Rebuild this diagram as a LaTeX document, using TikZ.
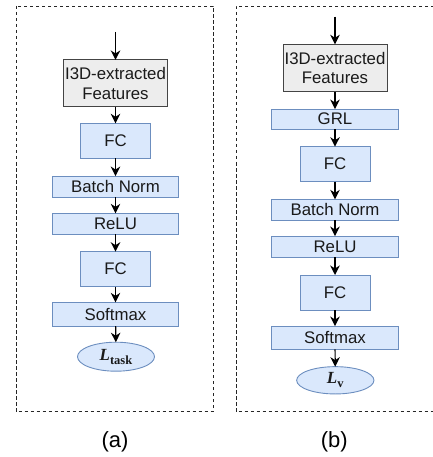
\documentclass[tikz,border=0pt]{standalone}
\usepackage{fontspec}
\setmainfont{Liberation Sans}
\newfontfamily\serifL{Liberation Serif}
\usetikzlibrary{arrows.meta,shapes.geometric}
\definecolor{bfill}{HTML}{DAE8FC}
\definecolor{bdraw}{HTML}{6C8EBF}
\definecolor{gfill}{HTML}{EDEDED}
\definecolor{gdraw}{HTML}{444444}
\definecolor{txt}{HTML}{1A1A1A}
\begin{document}
\begin{tikzpicture}[x=1pt,y=-1pt,
  every node/.style={inner sep=0pt,outer sep=0pt,text=txt,font=\fontsize{16.8}{19.5}\selectfont},
  bluebox/.style={draw=bdraw,fill=bfill,line width=0.9pt,rectangle,align=center},
  graybox/.style={draw=gdraw,fill=gfill,line width=0.9pt,rectangle,align=center},
  lossnode/.style={draw=bdraw,fill=bfill,line width=0.9pt,ellipse},
  flow/.style={draw=black,line width=1.2pt,-{Stealth[length=9.5pt,width=9.5pt,inset=3pt]}},
  frame/.style={draw=black!85,line width=0.9pt,dash pattern=on 3.5pt off 2.5pt},
  caption/.style={font=\fontsize{22}{26}\selectfont,text=black}
]
\useasboundingbox (0,0) rectangle (432,457);
% frames
\draw[frame] (16,6) rectangle (213,411.5);
\draw[frame] (440,6) -- (236,6) -- (236,411.5) -- (440,411.5);

% left column
\coordinate (ain) at (115.5,32);
\node[graybox,minimum width=104pt,minimum height=46.7pt] (ai3d) at (115.5,83.3) {I3D-extracted\\Features};
\node[bluebox,minimum width=70.7pt,minimum height=35pt] (afc1) at (115.5,140.8) {FC};
\node[bluebox,minimum width=126.7pt,minimum height=21.3pt] (abn) at (115.5,186.7) {Batch Norm};
\node[bluebox,minimum width=126.7pt,minimum height=20.7pt] (arelu) at (115.5,223.7) {ReLU};
\node[bluebox,minimum width=70.7pt,minimum height=35pt] (afc2) at (115.5,269.2) {FC};
\node[bluebox,minimum width=126.7pt,minimum height=23.7pt] (asoft) at (115.5,314.2) {Softmax};
\node[lossnode,minimum width=77pt,minimum height=29pt] (aloss) at (116,356.7)
  {\serifL\bfseries\fontsize{17}{17}\selectfont\itshape L\upshape\raisebox{-4pt}{\fontsize{12.5}{12.5}\selectfont task}};
\node[caption] (acap) at (115,441.7) {(a)};
\draw[flow] (ain) -- (ai3d);
\draw[flow] (ai3d) -- (afc1);
\draw[flow] (afc1) -- (abn);
\draw[flow] (abn) -- (arelu);
\draw[flow] (arelu) -- (afc2);
\draw[flow] (afc2) -- (asoft);
\draw[flow] (asoft) -- (aloss);

% right column
\coordinate (bin) at (335,16.7);
\node[graybox,minimum width=104pt,minimum height=47.4pt] (bi3d) at (335,68) {I3D-extracted\\Features};
\node[bluebox,minimum width=126.7pt,minimum height=20.3pt] (bgrl) at (335,119.2) {GRL};
\node[bluebox,minimum width=70pt,minimum height=35pt] (bfc1) at (335,164.2) {FC};
\node[bluebox,minimum width=126.7pt,minimum height=20.7pt] (bbn) at (335,209.7) {Batch Norm};
\node[bluebox,minimum width=126.7pt,minimum height=21.3pt] (brelu) at (335,246.7) {ReLU};
\node[bluebox,minimum width=70pt,minimum height=35pt] (bfc2) at (335,292.5) {FC};
\node[bluebox,minimum width=126.7pt,minimum height=23.3pt] (bsoft) at (335,337.7) {Softmax};
\node[lossnode,minimum width=77.3pt,minimum height=27.3pt] (bloss) at (335.3,380.3)
  {\serifL\bfseries\fontsize{17}{17}\selectfont\itshape L\upshape\raisebox{-4pt}{\fontsize{12.5}{12.5}\selectfont v}};
\node[caption] (bcap) at (334.3,441.7) {(b)};
\draw[flow] (bin) -- (bi3d);
\draw[flow] (bi3d) -- (bgrl);
\draw[flow] (bgrl) -- (bfc1);
\draw[flow] (bfc1) -- (bbn);
\draw[flow] (bbn) -- (brelu);
\draw[flow] (brelu) -- (bfc2);
\draw[flow] (bfc2) -- (bsoft);
\draw[flow] (bsoft) -- (bloss);
\end{tikzpicture}
\end{document}
